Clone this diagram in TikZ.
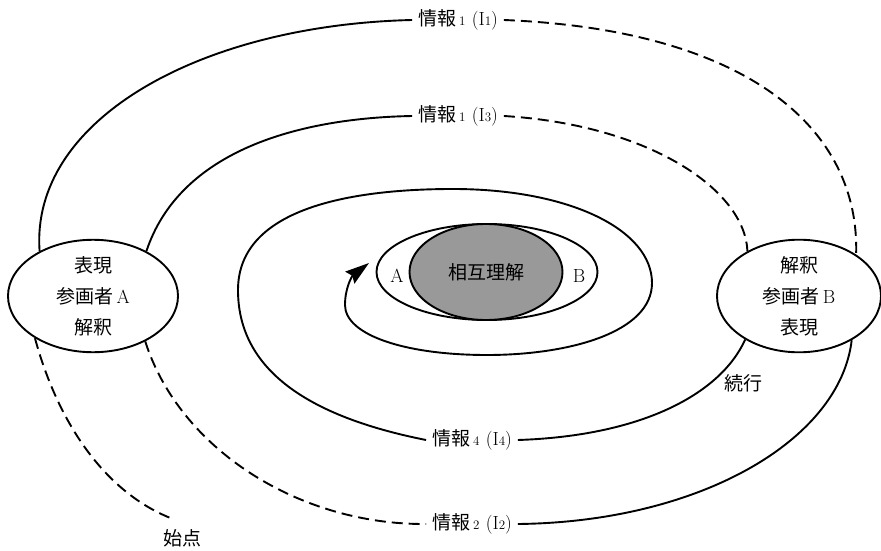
\documentclass[tikz,border=0pt]{standalone}
\usepackage{fontspec}
\newfontfamily\cjk{Noto Sans CJK JP}
\usetikzlibrary{shapes.geometric,arrows.meta}
\newcommand\myfs{\fontsize{19}{31}\selectfont}
\newcommand\smalln[1]{{\fontsize{13}{13}\selectfont #1}}
\newcommand\infolbl[2]{{\cjk 情報}\,\smalln{#1}\,\,(I\smalln{#2})}
\begin{document}
\begin{tikzpicture}[x=1pt,y=-1pt,
  line width=1.9pt,
  dsh/.style={line width=1.9pt, dash pattern=on 11pt off 6pt},
  party/.style={ellipse, draw, line width=1.9pt, minimum width=170pt, minimum height=104pt, inner sep=0pt, align=center, font=\myfs},
  lbl/.style={inner sep=5pt, font=\myfs},
]
\useasboundingbox (0,0) rectangle (881,551);

% central ellipses
\node[ellipse, draw, line width=1.9pt, minimum width=221pt, minimum height=96pt] (ring) at (487,272) {};
\node[ellipse, draw, line width=1.9pt, fill=black!40, minimum width=153pt, minimum height=96pt, font=\myfs] (mu) at (486,272) {\cjk 相互理解};
\node[font=\myfs] (la) at (397,276) {A};
\node[font=\myfs] (lb) at (579,276) {B};

% parties
\node[party] (A) at (93,296) {{\cjk 表現}\\{\cjk 参画者}\,A\\{\cjk 解釈}};
\node[party, minimum width=164pt] (B) at (799,296) {{\cjk 解釈}\\{\cjk 参画者}\,B\\{\cjk 表現}};

% labels
\node[lbl] (i1) at (458,20) {\infolbl{1}{1}};
\node[lbl] (i3) at (458,116) {\infolbl{1}{3}};
\node[lbl] (i4) at (472,440) {\infolbl{4}{4}};
\node[lbl] (i2) at (472,524) {\infolbl{2}{2}};
\node[lbl] (start) at (182,538) {\cjk 始点};
\node[lbl] (cont) at (743,383) {\cjk 続行};
\coordinate (s0) at (173,519);
\coordinate (tip) at (369,263);

% outer connectors
\draw (A.140) .. controls (30,120) and (200,25) .. (i1.west);
\draw[dsh] (i1.east) .. controls (750,30) and (860,130) .. (B.36);
\draw (A.40) .. controls (180,150) and (300,118) .. (i3.west);
\draw[dsh] (i3.east) .. controls (650,125) and (745,190) .. (B.139);
\draw[dsh] (A.-41) .. controls (180,450) and (300,525) .. (i2.west);
\draw (i2.east) .. controls (700,522) and (840,440) .. (B.-40);
\draw[dsh] (A.216) .. controls (60,430) and (110,495) .. (s0);
\draw (i4.east) .. controls (640,436) and (720,395) .. (B.219);

% spiral
\draw[-{Stealth[length=24pt,width=15pt,inset=3pt]}] (i4.west)
  .. controls (300,415) and (238,365) .. (238,290)
  .. controls (238,205) and (360,189) .. (453,189)
  .. controls (570,189) and (652,230) .. (652,283)
  .. controls (652,332) and (570,355) .. (487,355)
  .. controls (405,355) and (345,335) .. (345,305)
  .. controls (345,288) and (352,276) .. (tip);
\end{tikzpicture}
\end{document}
